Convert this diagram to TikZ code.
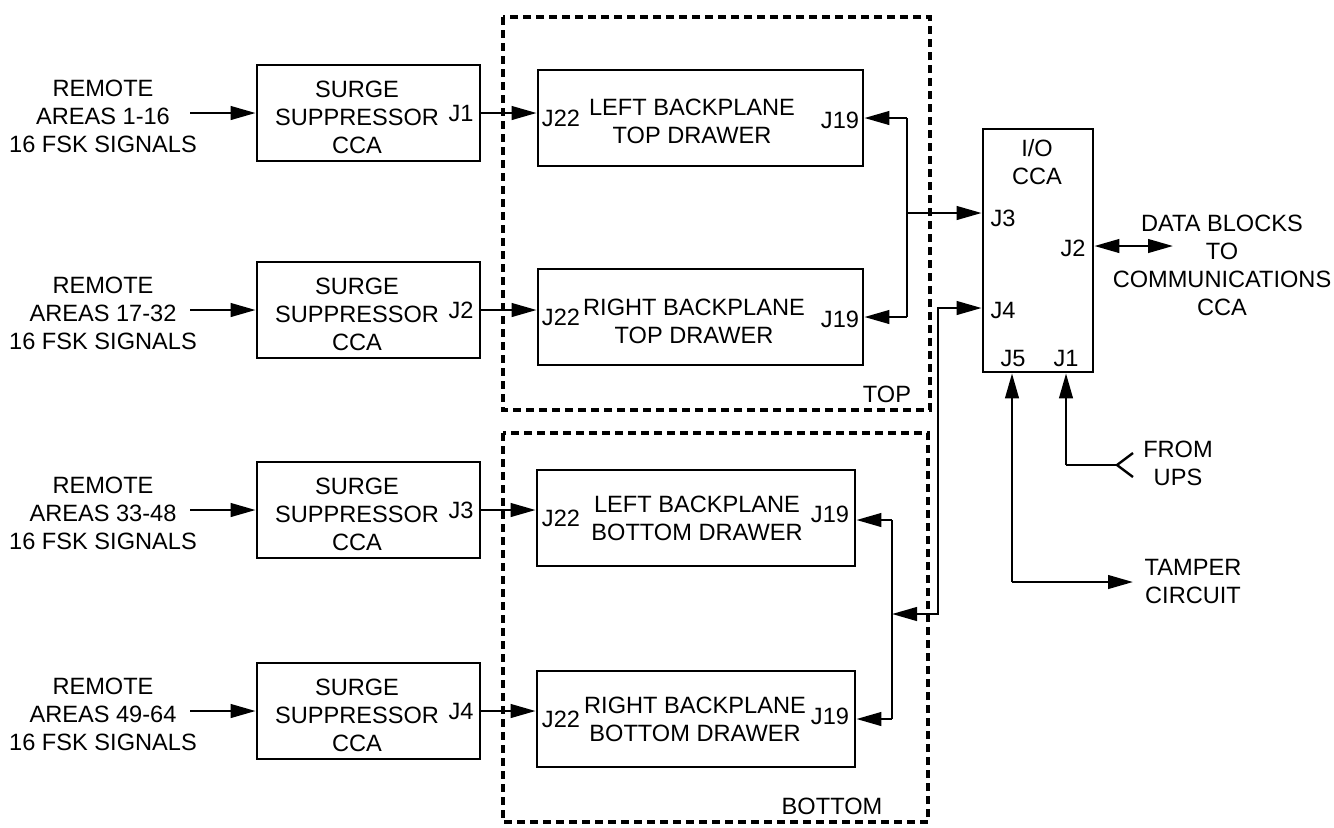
\documentclass[tikz,border=0pt]{standalone}
\usepackage{fontspec}
\setmainfont{Liberation Sans}
\usetikzlibrary{arrows.meta}
\begin{document}
\begin{tikzpicture}[x=0.5pt,y=-0.5pt,
  box/.style={draw,line width=1.4pt,inner sep=0pt},
  txt/.style={font=\fontsize{11.8}{14}\selectfont,align=center,inner sep=0pt},
  conn/.style={line width=1.2pt},
  arr/.style={conn,-{Triangle[length=12.5pt,width=6.8pt]}},
  darr/.style={conn,{Triangle[length=12.5pt,width=6.8pt]}-{Triangle[length=12.5pt,width=6.8pt]}},
  frame/.style={line width=2.4pt,dash pattern=on 4pt off 2.5pt},
  surge/.style={box,minimum width=111.5pt,minimum height=48pt},
  bptop/.style={box,minimum width=162.5pt,minimum height=48pt},
  bpbot/.style={box,minimum width=159pt,minimum height=48pt},
]
\useasboundingbox (0,0) rectangle (1334,827);

% dotted drawer frames
\draw[frame] (503,17) rectangle (930,410);
\draw[frame] (503,433) rectangle (928,822);
\node[txt] (toplbl) at (887,394) {TOP};
\node[txt] (botlbl) at (832,806) {BOTTOM};

% remote area texts
\node[txt] (r1) at (103,116) {REMOTE\\AREAS 1-16\\16 FSK SIGNALS};
\node[txt] (r2) at (103,313) {REMOTE\\AREAS 17-32\\16 FSK SIGNALS};
\node[txt] (r3) at (103,513) {REMOTE\\AREAS 33-48\\16 FSK SIGNALS};
\node[txt] (r4) at (103,714) {REMOTE\\AREAS 49-64\\16 FSK SIGNALS};
\coordinate (i1) at (190,113);
\coordinate (i2) at (190,310);
\coordinate (i3) at (190,510);
\coordinate (i4) at (190,711);

% surge suppressor boxes
\node[surge] (s1) at (368.5,113) {};
\node[surge] (s2) at (368.5,310) {};
\node[surge] (s3) at (368.5,510) {};
\node[surge] (s4) at (368.5,711) {};
\foreach \i/\y/\j in {1/113/J1,2/310/J2,3/510/J3,4/711/J4}{
  \node[txt] (st\i) at (357,\y+4) {SURGE\\SUPPRESSOR\\CCA};
  \node[txt] (sj\i) at (461,\y) {\j};
}
\foreach \i in {1,2,3,4}{ \draw[arr] (i\i) -- (s\i.west); }

% backplane boxes
\node[bptop] (b1) at (700.5,118) {};
\node[bptop] (b2) at (700.5,317) {};
\node[bpbot] (b3) at (696,518) {};
\node[bpbot] (b4) at (696,719) {};
\node[txt] (bt1) at (692,121) {LEFT BACKPLANE\\TOP DRAWER};
\node[txt] (bt2) at (694,321) {RIGHT BACKPLANE\\TOP DRAWER};
\node[txt] (bt3) at (697,518) {LEFT BACKPLANE\\BOTTOM DRAWER};
\node[txt] (bt4) at (695,719) {RIGHT BACKPLANE\\BOTTOM DRAWER};
\node[txt] (bj1) at (561,118) {J22};
\node[txt] (bj2) at (561,317) {J22};
\node[txt] (bj3) at (561,518) {J22};
\node[txt] (bj4) at (561,719) {J22};
\node[txt] (bk1) at (840,120) {J19};
\node[txt] (bk2) at (840,319) {J19};
\node[txt] (bk3) at (830,514) {J19};
\node[txt] (bk4) at (830,716) {J19};
\foreach \i in {1,2,3,4}{ \draw[arr] (s\i.east) -- (b\i.west |- s\i.east); }

% I/O CCA
\node[box,minimum width=55pt,minimum height=121.5pt] (io) at (1038,250.5) {};
\node[txt] (iot) at (1037,162) {I/O\\CCA};
\node[txt] (ioj3) at (1003,218) {J3};
\node[txt] (ioj4) at (1003,310) {J4};
\node[txt] (ioj2) at (1073,248) {J2};
\node[txt] (ioj5) at (1013,358) {J5};
\node[txt] (ioj1) at (1066,358) {J1};

% top bus
\coordinate (t1) at (907,118);
\coordinate (t2) at (907,317);
\coordinate (t3) at (907,213);
\draw[conn] (t1) -- (t2);
\draw[arr] (t1) -- (b1.east);
\draw[arr] (t2) -- (b2.east);
\draw[arr] (t3) -- (io.west |- t3);

% bottom bus
\coordinate (u1) at (892,520);
\coordinate (u2) at (892,719);
\coordinate (u3) at (892,614);
\coordinate (v1) at (938,614);
\coordinate (v2) at (938,308);
\draw[conn] (u1) -- (u2);
\draw[arr] (u1) -- (b3.east |- u1);
\draw[arr] (u2) -- (b4.east);
\draw[darr] (u3) -- (v1) -- (v2) -- (io.west |- v2);

% J2 data blocks
\coordinate (d1) at (1173,246);
\draw[darr] (io.east |- d1) -- (d1);
\node[txt] (data) at (1222,265) {DATA BLOCKS\\TO\\COMMUNICATIONS\\CCA};

% J5 tamper
\coordinate (w1) at (1012,582);
\coordinate (w2) at (1133,582);
\draw[arr] (w1) -- (io.south -| w1);
\draw[arr] (w1) -- (w2);
\node[txt] (tamper) at (1193,581) {TAMPER\\CIRCUIT};

% J1 from UPS
\coordinate (x1) at (1066,465);
\coordinate (x2) at (1117,465);
\coordinate (x3) at (1133,453);
\coordinate (x4) at (1133,477);
\draw[arr] (x1) -- (io.south -| x1);
\draw[conn] (x1) -- (x2);
\draw[conn] (x3) -- (x2) -- (x4);
\node[txt] (ups) at (1178,463) {FROM\\UPS};
\end{tikzpicture}
\end{document}
